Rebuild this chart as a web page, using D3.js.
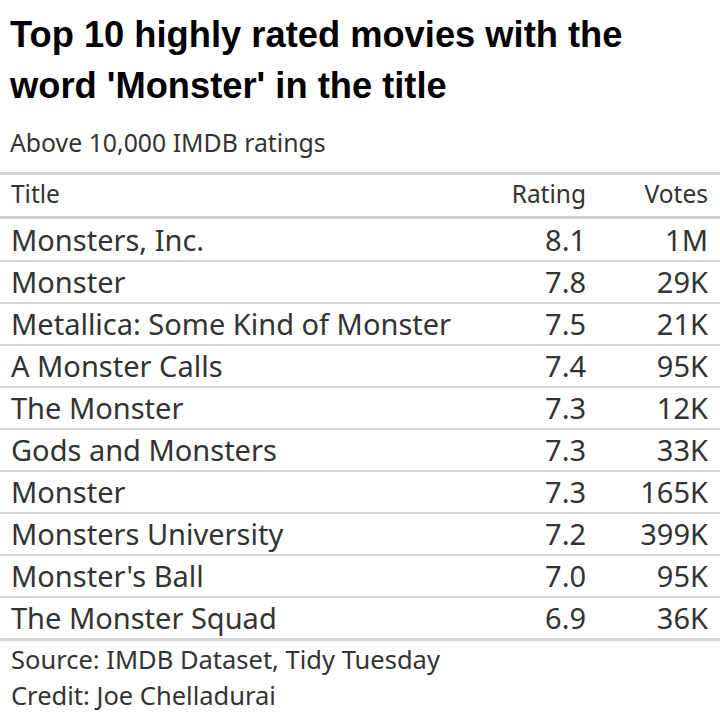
<!DOCTYPE html>
<html><head><meta charset="utf-8">
<script src="https://cdn.jsdelivr.net/npm/d3@7"></script>
<style>html,body{margin:0;padding:0;background:#fff;}</style>
</head><body>
<svg id="chart" width="720" height="718"></svg>
<script>
const titles = ["Monsters, Inc.","Monster","Metallica: Some Kind of Monster","A Monster Calls","The Monster","Gods and Monsters","Monster","Monsters University","Monster's Ball","The Monster Squad"];
const ratings = [8.1,7.8,7.5,7.4,7.3,7.3,7.3,7.2,7.0,6.9];
const votes = ["1M","29K","21K","95K","12K","33K","165K","399K","95K","36K"];
const headers = ["Title","Rating","Votes"];
const titleLines = ["Top 10 highly rated movies with the","word 'Monster' in the title"];
const subtitle = "Above 10,000 IMDB ratings";
const notes = ["Source: IMDB Dataset, Tidy Tuesday","Credit: Joe Chelladurai"];

const FONT = "'Noto Sans',sans-serif";
const TFONT = "'Liberation Sans',Arial,sans-serif";
const TXT = "#333333";
const LINE = "#d3d3d3";
const svg = d3.select("#chart");
const W = 720;

svg.selectAll("text.title").data(titleLines).join("text")
  .attr("class","title").attr("x",10).attr("y",(d,i)=>47+i*51)
  .attr("font-family",TFONT).attr("font-weight","bold").attr("font-size",36.3).attr("fill","#000")
  .text(d=>d);
svg.append("text").attr("x",10).attr("y",152).attr("font-family",FONT).attr("font-size",24.8).attr("fill",TXT).text(subtitle);

const y = d3.scaleBand().domain(d3.range(titles.length)).range([219,639]);
const rows = titles.map((t,i)=>({t, r:ratings[i], v:votes[i]}));

const g = svg.append("g");
g.append("rect").attr("x",0).attr("y",172).attr("width",W).attr("height",3).attr("fill",LINE);
g.append("rect").attr("x",0).attr("y",216).attr("width",W).attr("height",3).attr("fill",LINE);
const colX = [11,586,708];
const anchors = ["start","end","end"];
g.selectAll("text.h").data(headers).join("text").attr("class","h")
  .attr("x",(d,i)=>colX[i]).attr("y",203).attr("text-anchor",(d,i)=>anchors[i])
  .attr("font-family",FONT).attr("font-size",24.5).attr("fill",TXT).text(d=>d);

const rg = g.selectAll("g.row").data(rows).join("g").attr("class","row")
  .attr("transform",(d,i)=>`translate(0,${y(i)})`);
rg.filter((d,i)=>i<rows.length-1).append("rect").attr("x",0).attr("y",y.bandwidth()-1).attr("width",W).attr("height",2).attr("fill",LINE);
const fmt = d3.format(".1f");
const by = y.bandwidth()/2+10.5;
rg.append("text").attr("x",colX[0]).attr("y",by).attr("font-family",FONT).attr("font-size",29).attr("fill",TXT).text(d=>d.t);
rg.append("text").attr("x",colX[1]).attr("y",by).attr("text-anchor","end").attr("font-family",FONT).attr("font-size",29).attr("fill",TXT).text(d=>fmt(d.r));
rg.append("text").attr("x",colX[2]).attr("y",by).attr("text-anchor","end").attr("font-family",FONT).attr("font-size",29).attr("fill",TXT).text(d=>d.v);

g.append("rect").attr("x",0).attr("y",638).attr("width",W).attr("height",3).attr("fill",LINE);

svg.selectAll("text.note").data(notes).join("text").attr("class","note")
  .attr("x",11).attr("y",(d,i)=>669+i*36).attr("font-family",FONT).attr("font-size",25.5).attr("fill",TXT).text(d=>d);
</script>
</body></html>
